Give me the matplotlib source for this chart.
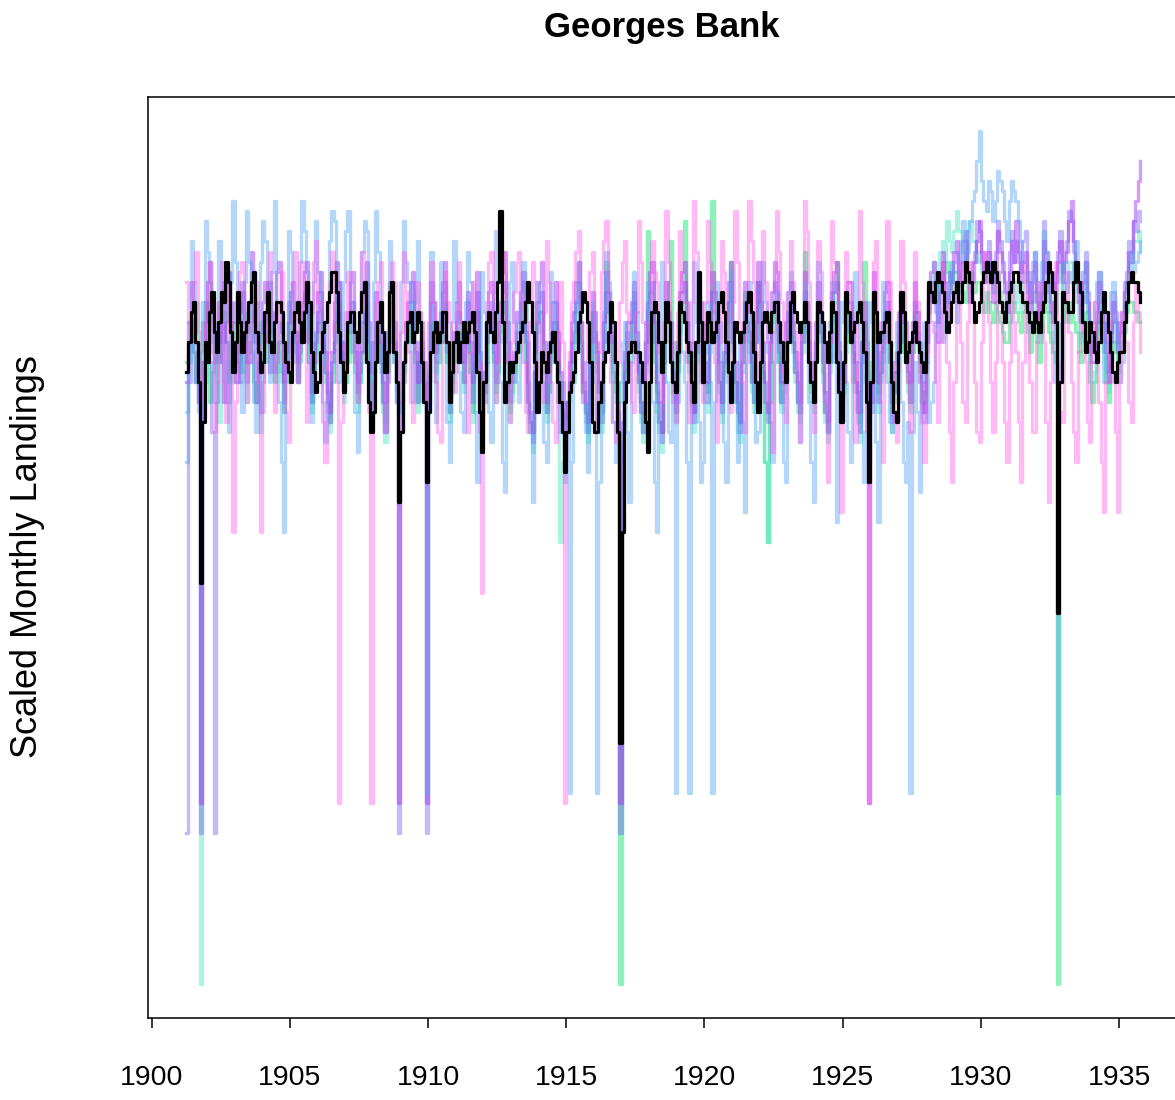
import numpy as np
import matplotlib.pyplot as plt

plt.rcParams['font.family'] = ['Liberation Sans', 'DejaVu Sans']

# monthly values starting Apr 1901, scaled landings (arbitrary units)
start = 1901.25
step = 1 / 12
years = list(range(1900, 1940, 5))

mean_landings = [
    61, 64, 67, 68, 64, 60, 40, 56, 64, 62, 67, 69, 65, 63, 66, 69, 68, 72, 70, 65, 61, 64, 69, 66,
    63, 65, 66, 68, 70, 71, 65, 63, 61, 62, 67, 69, 64, 63, 66, 68, 68, 67, 64, 62, 61, 60, 65, 67,
    68, 66, 64, 67, 70, 68, 63, 61, 59, 60, 63, 65, 66, 68, 69, 71, 71, 69, 65, 62, 59, 61, 66, 67,
    67, 65, 64, 67, 69, 70, 62, 58, 55, 57, 62, 66, 68, 65, 61, 63, 69, 70, 63, 60, 48, 55, 62, 64,
    66, 67, 64, 65, 67, 66, 62, 58, 50, 57, 63, 65, 66, 64, 65, 67, 67, 64, 58, 61, 64, 65, 62, 64,
    66, 64, 65, 66, 67, 65, 61, 57, 53, 60, 66, 67, 65, 64, 67, 70, 77, 66, 58, 60, 62, 61, 62, 63,
    64, 65, 66, 68, 70, 68, 65, 62, 57, 60, 63, 62, 61, 63, 64, 65, 62, 60, 58, 55, 51, 55, 59, 60,
    61, 63, 66, 67, 69, 68, 66, 62, 56, 55, 55, 58, 60, 62, 63, 65, 68, 66, 62, 55, 24, 45, 58, 60,
    63, 64, 64, 63, 63, 62, 60, 56, 53, 60, 67, 68, 67, 64, 61, 64, 68, 66, 62, 60, 59, 63, 68, 67,
    66, 64, 63, 60, 58, 64, 71, 66, 60, 64, 67, 66, 64, 65, 66, 68, 69, 67, 64, 61, 58, 62, 66, 65,
    64, 65, 66, 68, 69, 67, 63, 60, 57, 62, 66, 67, 66, 65, 67, 68, 68, 66, 64, 62, 60, 64, 68, 69,
    67, 66, 65, 66, 68, 66, 62, 60, 58, 62, 68, 67, 66, 64, 62, 65, 68, 67, 62, 59, 56, 62, 69, 67,
    64, 65, 66, 67, 68, 66, 63, 58, 50, 60, 69, 67, 64, 65, 65, 66, 67, 64, 60, 57, 56, 63, 69, 67,
    62, 63, 64, 65, 66, 64, 63, 62, 61, 66, 70, 69, 68, 70, 71, 70, 69, 67, 65, 66, 68, 69, 70, 68,
    68, 70, 72, 71, 70, 68, 66, 67, 68, 70, 71, 72, 71, 70, 72, 71, 70, 68, 67, 66, 68, 69, 70, 71,
    71, 70, 69, 68, 68, 67, 66, 65, 67, 66, 65, 67, 68, 70, 72, 71, 69, 66, 37, 60, 69, 68, 68, 67,
    67, 70, 72, 70, 69, 66, 63, 64, 66, 65, 63, 62, 64, 67, 69, 67, 65, 63, 61, 60, 62, 63, 63, 66,
    68, 70, 71, 70, 70, 69, 68,
]

light_blue = [
    52, 63, 74, 70, 60, 57, 56, 68, 76, 73, 70, 64, 58, 66, 74, 69, 62, 58, 55, 70, 78, 72, 66, 60,
    57, 70, 77, 72, 65, 58, 55, 64, 72, 76, 74, 66, 60, 71, 78, 66, 58, 52, 45, 62, 75, 73, 68, 62,
    60, 72, 78, 75, 71, 62, 56, 70, 76, 71, 66, 58, 54, 68, 74, 77, 76, 66, 60, 64, 70, 75, 77, 68,
    63, 57, 53, 66, 73, 76, 75, 64, 58, 70, 77, 73, 68, 60, 55, 65, 74, 70, 62, 58, 57, 70, 76, 72,
    70, 63, 58, 68, 74, 67, 62, 58, 19, 60, 73, 64, 56, 66, 72, 69, 64, 56, 52, 66, 74, 68, 61, 57,
    55, 68, 73, 70, 66, 57, 50, 62, 71, 67, 62, 57, 54, 69, 75, 66, 60, 52, 49, 63, 70, 72, 66, 60,
    58, 67, 72, 69, 64, 55, 48, 60, 70, 66, 60, 54, 52, 64, 71, 68, 62, 58, 55, 60, 50, 56, 19, 52,
    60, 68, 72, 66, 62, 55, 51, 63, 68, 60, 19, 50, 57, 67, 73, 70, 64, 56, 52, 58, 60, 64, 66, 55,
    48, 62, 71, 67, 63, 57, 55, 66, 70, 64, 58, 50, 45, 64, 72, 68, 60, 55, 54, 62, 19, 58, 66, 63,
    60, 52, 19, 64, 72, 66, 56, 50, 52, 63, 68, 60, 19, 58, 70, 66, 62, 54, 50, 64, 71, 66, 58, 52,
    64, 56, 47, 62, 70, 66, 60, 54, 55, 66, 72, 68, 63, 56, 52, 62, 69, 64, 58, 52, 50, 66, 71, 65,
    62, 58, 54, 64, 70, 65, 58, 52, 48, 64, 72, 67, 64, 58, 55, 66, 70, 62, 46, 58, 68, 66, 60, 55,
    52, 64, 71, 66, 62, 55, 50, 63, 68, 66, 64, 54, 46, 62, 70, 65, 60, 56, 55, 62, 66, 63, 58, 52,
    50, 56, 19, 55, 62, 57, 49, 60, 66, 62, 56, 58, 60, 66, 70, 67, 64, 66, 68, 71, 72, 70, 66, 72,
    74, 76, 70, 73, 76, 78, 79, 82, 85, 80, 78, 77, 80, 79, 76, 78, 81, 80, 79, 76, 74, 78, 80, 79,
    78, 76, 74, 72, 72, 69, 70, 72, 73, 70, 68, 72, 75, 73, 71, 68, 66, 60, 19, 66, 72, 70, 69, 71,
    70, 72, 74, 70, 66, 68, 72, 67, 63, 66, 68, 70, 71, 66, 60, 64, 67, 69, 70, 66, 64, 60, 62, 65,
    68, 70, 73, 71, 72, 73, 74,
]

pink = [
    70, 66, 64, 70, 73, 65, 58, 61, 66, 70, 72, 63, 55, 60, 68, 72, 60, 56, 70, 66, 45, 58, 65, 71,
    72, 64, 58, 62, 66, 71, 70, 60, 45, 57, 64, 70, 73, 66, 57, 62, 68, 71, 62, 57, 54, 64, 70, 73,
    60, 66, 72, 65, 56, 62, 67, 72, 74, 68, 62, 56, 52, 63, 70, 73, 65, 60, 18, 56, 60, 67, 71, 66,
    66, 62, 58, 67, 73, 68, 62, 57, 18, 60, 68, 70, 72, 64, 55, 60, 66, 72, 70, 62, 58, 65, 73, 69,
    63, 58, 56, 65, 70, 67, 65, 60, 58, 66, 72, 68, 60, 55, 54, 64, 71, 68, 66, 60, 59, 67, 72, 66,
    64, 60, 55, 63, 70, 67, 62, 55, 39, 58, 68, 72, 73, 65, 58, 62, 66, 73, 71, 62, 56, 64, 69, 72,
    73, 68, 62, 57, 55, 66, 72, 70, 66, 60, 58, 67, 74, 70, 60, 56, 54, 63, 70, 64, 18, 55, 63, 68,
    70, 73, 75, 66, 58, 62, 66, 71, 73, 64, 56, 63, 71, 74, 76, 68, 60, 56, 54, 62, 68, 72, 74, 67,
    62, 58, 57, 67, 76, 72, 66, 60, 55, 66, 74, 71, 70, 63, 58, 66, 77, 72, 64, 58, 56, 67, 75, 70,
    68, 62, 56, 68, 78, 73, 65, 60, 58, 68, 76, 72, 70, 62, 54, 64, 74, 71, 67, 60, 57, 68, 77, 72,
    66, 60, 55, 67, 78, 74, 70, 63, 58, 66, 75, 70, 64, 58, 53, 65, 77, 73, 68, 61, 56, 66, 74, 70,
    65, 60, 54, 66, 78, 75, 70, 62, 55, 64, 74, 71, 66, 58, 50, 64, 76, 72, 69, 60, 47, 60, 73, 70,
    67, 60, 54, 66, 77, 70, 64, 55, 18, 60, 72, 74, 66, 58, 52, 64, 76, 70, 62, 56, 54, 66, 74, 70,
    64, 60, 55, 64, 73, 68, 60, 56, 52, 63, 70, 66, 65, 60, 56, 64, 72, 68, 62, 55, 50, 60, 70, 72,
    64, 58, 56, 66, 72, 68, 60, 55, 54, 64, 73, 70, 66, 60, 55, 62, 71, 68, 62, 56, 52, 62, 70, 66,
    63, 56, 50, 62, 72, 67, 60, 55, 55, 64, 70, 66, 64, 56, 48, 60, 68, 72, 62, 57, 56, 66, 71, 65,
    60, 55, 52, 63, 70, 65, 62, 56, 54, 64, 68, 62, 58, 52, 47, 60, 66, 62, 60, 55, 47, 60, 67, 64,
    64, 58, 56, 66, 70, 67, 63,
]

purple = [
    60, 66, 70, 67, 64, 58, 18, 62, 66, 70, 72, 66, 62, 65, 68, 62, 58, 66, 71, 68, 64, 60, 60, 67,
    69, 66, 62, 68, 73, 66, 58, 62, 65, 68, 70, 64, 61, 64, 67, 71, 72, 65, 60, 63, 66, 69, 70, 65,
    62, 65, 68, 71, 72, 64, 59, 62, 65, 69, 71, 66, 63, 59, 57, 63, 68, 72, 70, 64, 62, 64, 67, 70,
    71, 65, 60, 63, 66, 70, 72, 66, 61, 64, 69, 66, 64, 60, 58, 65, 70, 68, 66, 60, 18, 58, 62, 66,
    68, 70, 71, 64, 60, 64, 66, 62, 18, 60, 70, 68, 63, 65, 67, 70, 72, 64, 58, 61, 65, 68, 70, 66,
    62, 66, 69, 64, 60, 66, 71, 63, 57, 61, 66, 69, 70, 65, 62, 66, 68, 71, 73, 66, 60, 62, 63, 67,
    66, 69, 71, 65, 60, 57, 55, 63, 68, 70, 72, 64, 58, 61, 64, 68, 70, 65, 61, 57, 53, 58, 62, 66,
    67, 70, 72, 66, 60, 58, 56, 64, 69, 67, 64, 60, 58, 66, 71, 69, 66, 64, 62, 58, 18, 56, 63, 66,
    66, 68, 70, 65, 61, 58, 57, 64, 68, 71, 72, 66, 60, 58, 55, 64, 70, 67, 66, 61, 58, 64, 69, 71,
    72, 68, 64, 60, 57, 64, 70, 68, 66, 62, 60, 66, 71, 69, 68, 62, 58, 63, 66, 70, 72, 66, 62, 58,
    56, 64, 70, 68, 67, 62, 60, 66, 72, 68, 64, 60, 57, 64, 69, 72, 71, 64, 60, 62, 66, 69, 70, 66,
    63, 60, 58, 66, 71, 68, 66, 62, 60, 66, 70, 67, 64, 59, 56, 64, 69, 71, 72, 64, 58, 62, 67, 70,
    70, 66, 62, 59, 57, 64, 68, 63, 18, 58, 71, 66, 60, 63, 66, 69, 70, 64, 58, 61, 63, 67, 69, 66,
    66, 63, 60, 66, 70, 67, 64, 60, 57, 64, 69, 71, 72, 68, 64, 69, 73, 70, 66, 69, 71, 73, 74, 71,
    70, 72, 75, 71, 68, 70, 72, 74, 76, 73, 70, 72, 73, 70, 68, 71, 75, 73, 71, 69, 67, 71, 74, 72,
    76, 73, 70, 72, 73, 70, 67, 70, 72, 68, 65, 69, 74, 71, 69, 67, 66, 70, 72, 74, 70, 72, 73, 76,
    78, 74, 70, 68, 66, 70, 72, 68, 64, 62, 62, 66, 70, 68, 66, 63, 60, 64, 68, 66, 63, 65, 66, 69,
    70, 73, 72, 76, 78, 80, 82,
]

lavender = [
    15, 60, 66, 63, 60, 58, 15, 62, 68, 66, 62, 55, 15, 58, 64, 67, 70, 64, 58, 62, 66, 68, 62, 60,
    70, 66, 60, 62, 64, 67, 68, 63, 57, 60, 66, 69, 70, 65, 61, 63, 64, 66, 58, 62, 68, 66, 63, 65,
    60, 63, 67, 69, 70, 64, 58, 61, 64, 67, 69, 65, 61, 58, 56, 62, 66, 69, 70, 64, 60, 62, 65, 68,
    68, 63, 59, 61, 63, 67, 70, 64, 57, 61, 66, 64, 62, 58, 55, 63, 68, 66, 64, 58, 15, 55, 60, 64,
    66, 68, 70, 63, 58, 62, 64, 60, 15, 58, 68, 65, 62, 64, 66, 69, 70, 63, 57, 60, 64, 66, 67, 64,
    60, 64, 68, 63, 58, 64, 69, 62, 55, 59, 64, 67, 68, 63, 60, 64, 66, 69, 70, 64, 58, 60, 62, 65,
    65, 68, 70, 64, 58, 56, 54, 61, 66, 68, 69, 62, 57, 60, 63, 66, 68, 64, 60, 57, 55, 58, 60, 64,
    65, 68, 70, 64, 59, 57, 55, 62, 67, 65, 63, 59, 56, 64, 69, 67, 65, 62, 60, 57, 15, 54, 62, 65,
    64, 66, 69, 64, 60, 57, 55, 62, 67, 69, 70, 64, 58, 56, 54, 62, 68, 66, 64, 60, 57, 62, 67, 69,
    70, 66, 62, 58, 56, 63, 68, 66, 64, 60, 58, 64, 69, 67, 66, 60, 57, 62, 64, 68, 70, 64, 60, 57,
    55, 62, 68, 66, 65, 60, 58, 64, 70, 66, 62, 58, 56, 62, 67, 70, 69, 63, 58, 60, 64, 67, 68, 64,
    61, 58, 57, 64, 69, 66, 64, 60, 58, 64, 68, 65, 62, 57, 55, 62, 67, 69, 70, 63, 57, 60, 65, 68,
    68, 64, 60, 57, 55, 62, 66, 60, 52, 57, 69, 65, 58, 61, 64, 67, 68, 62, 56, 59, 61, 65, 67, 64,
    64, 61, 58, 64, 68, 65, 62, 58, 56, 62, 67, 69, 70, 67, 66, 70, 72, 69, 68, 71, 70, 72, 73, 70,
    72, 74, 74, 71, 70, 72, 73, 76, 75, 72, 71, 73, 74, 71, 70, 73, 76, 74, 72, 70, 69, 73, 75, 72,
    74, 72, 71, 74, 75, 71, 68, 71, 73, 69, 66, 70, 76, 73, 70, 68, 67, 71, 73, 75, 71, 73, 74, 77,
    76, 73, 71, 69, 67, 71, 73, 69, 65, 63, 63, 67, 71, 69, 67, 64, 61, 65, 69, 67, 64, 66, 67, 70,
    71, 74, 73, 76, 75, 77, 76,
]

aqua = [
    57, 62, 64, 67, 68, 63, 0, 58, 60, 66, 70, 67, 64, 60, 56, 63, 67, 70, 71, 65, 60, 62, 66, 68,
    62, 60, 58, 64, 68, 66, 64, 59, 55, 62, 66, 68, 70, 64, 60, 61, 63, 60, 57, 62, 66, 69, 68, 64,
    61, 64, 66, 69, 68, 62, 57, 60, 62, 66, 67, 64, 60, 57, 55, 61, 64, 67, 68, 63, 58, 60, 63, 66,
    66, 61, 57, 60, 62, 66, 68, 62, 56, 59, 64, 66, 61, 57, 54, 60, 66, 64, 62, 59, 58, 57, 61, 64,
    64, 66, 68, 62, 57, 60, 63, 58, 50, 57, 66, 64, 60, 62, 64, 67, 68, 62, 56, 59, 62, 64, 65, 62,
    59, 63, 66, 61, 56, 62, 67, 60, 54, 58, 62, 65, 66, 62, 58, 61, 64, 67, 68, 62, 56, 58, 60, 63,
    63, 66, 68, 62, 57, 55, 53, 60, 65, 67, 67, 61, 56, 59, 62, 65, 66, 58, 44, 52, 54, 57, 59, 62,
    64, 66, 68, 63, 58, 56, 54, 60, 65, 63, 61, 58, 55, 62, 67, 65, 63, 60, 58, 56, 60, 58, 61, 64,
    62, 65, 67, 63, 59, 56, 54, 61, 65, 68, 68, 63, 57, 55, 53, 60, 66, 64, 62, 59, 56, 61, 65, 67,
    68, 64, 61, 57, 55, 62, 66, 64, 62, 58, 57, 63, 67, 65, 64, 59, 56, 60, 62, 66, 68, 63, 58, 55,
    54, 61, 67, 65, 63, 59, 57, 64, 68, 64, 60, 52, 44, 58, 65, 68, 67, 62, 57, 59, 62, 65, 66, 63,
    60, 57, 56, 63, 67, 65, 62, 58, 57, 62, 66, 64, 60, 56, 54, 61, 65, 68, 68, 62, 56, 59, 63, 66,
    66, 62, 59, 56, 54, 60, 64, 59, 56, 61, 67, 64, 57, 60, 62, 65, 66, 60, 55, 58, 60, 63, 65, 63,
    62, 59, 57, 63, 66, 64, 60, 57, 58, 64, 68, 70, 72, 69, 70, 73, 74, 72, 76, 74, 73, 75, 77, 75,
    75, 73, 72, 75, 76, 74, 74, 72, 73, 71, 70, 72, 72, 70, 69, 71, 71, 69, 68, 67, 66, 69, 70, 68,
    70, 68, 67, 70, 71, 67, 65, 68, 69, 66, 64, 68, 72, 70, 67, 65, 64, 67, 70, 72, 68, 70, 70, 72,
    72, 70, 68, 65, 64, 68, 70, 66, 62, 60, 61, 65, 68, 66, 64, 61, 59, 63, 66, 64, 62, 64, 65, 68,
    70, 72, 72, 74, 74, 75, 73,
]

green = [
    62, 64, 66, 63, 60, 62, 63, 66, 68, 63, 58, 61, 65, 63, 62, 65, 67, 64, 60, 62, 64, 66, 66, 63,
    61, 64, 67, 65, 63, 60, 58, 62, 66, 64, 62, 65, 68, 64, 60, 62, 64, 61, 57, 60, 65, 67, 67, 64,
    60, 62, 65, 67, 67, 62, 58, 60, 63, 65, 66, 63, 61, 58, 56, 60, 64, 66, 67, 63, 59, 60, 62, 65,
    65, 62, 58, 60, 63, 66, 67, 62, 57, 60, 64, 65, 62, 58, 56, 61, 65, 64, 63, 60, 59, 58, 62, 64,
    64, 66, 67, 62, 58, 61, 63, 60, 57, 61, 66, 64, 61, 62, 64, 66, 67, 62, 57, 59, 62, 64, 65, 62,
    60, 63, 66, 61, 57, 62, 67, 61, 56, 59, 62, 65, 66, 62, 59, 61, 65, 67, 68, 62, 57, 59, 61, 64,
    63, 66, 68, 62, 58, 56, 55, 61, 66, 67, 67, 62, 57, 59, 62, 65, 66, 62, 60, 57, 56, 58, 60, 63,
    64, 67, 70, 64, 59, 57, 55, 62, 67, 64, 62, 59, 57, 66, 72, 67, 64, 61, 59, 56, 0, 55, 61, 64,
    63, 66, 68, 63, 60, 58, 56, 64, 75, 69, 67, 62, 59, 56, 55, 62, 66, 70, 74, 64, 57, 61, 66, 68,
    76, 66, 62, 58, 57, 63, 68, 66, 64, 60, 59, 66, 78, 68, 65, 60, 58, 61, 63, 68, 72, 64, 60, 57,
    56, 62, 69, 66, 64, 60, 58, 64, 70, 65, 61, 52, 44, 58, 66, 68, 68, 62, 58, 60, 63, 66, 67, 64,
    61, 58, 57, 65, 73, 66, 63, 59, 58, 63, 67, 65, 61, 57, 55, 62, 66, 69, 72, 63, 58, 60, 64, 67,
    67, 63, 60, 57, 56, 64, 72, 64, 58, 62, 68, 65, 59, 61, 63, 66, 67, 62, 57, 59, 61, 64, 66, 63,
    63, 60, 58, 63, 67, 64, 61, 58, 59, 64, 68, 70, 70, 68, 68, 70, 70, 71, 72, 70, 69, 71, 71, 69,
    70, 69, 68, 70, 71, 69, 69, 70, 70, 68, 67, 69, 68, 67, 66, 68, 67, 66, 65, 64, 64, 66, 67, 68,
    67, 66, 65, 67, 68, 65, 63, 65, 66, 64, 62, 65, 69, 67, 65, 64, 63, 62, 0, 60, 66, 68, 67, 66,
    68, 66, 65, 63, 62, 65, 67, 64, 60, 58, 60, 64, 66, 64, 63, 60, 58, 62, 64, 63, 61, 63, 64, 66,
    67, 68, 68, 67, 67, 66, 66,
]

species = [
    (green, (0.1, 0.9, 0.45, 0.5)),
    (aqua, (0.3, 0.9, 0.75, 0.45)),
    (lavender, (0.45, 0.35, 0.95, 0.42)),
    (purple, (0.65, 0.2, 0.95, 0.48)),
    (light_blue, (0.35, 0.65, 0.95, 0.45)),
    (pink, (1.0, 0.35, 0.9, 0.42)),
]

fig = plt.figure(figsize=(11.75, 11), dpi=100)
ax = fig.add_axes([148 / 1175, 82 / 1100, 1030 / 1175, 921 / 1100])

for vals, col in species:
    t = start + np.arange(len(vals)) * step
    ax.plot(t, vals, drawstyle='steps-post', color=col, lw=2.4)

t = start + np.arange(len(mean_landings)) * step
ax.plot(t, mean_landings, drawstyle='steps-post', color='black', lw=2.3)

# R style 4% padding around the data
allv = np.concatenate([np.array(v, float) for v, _ in species] + [np.array(mean_landings, float)])
lo, hi = allv.min(), allv.max()
ax.set_ylim(lo - 0.04 * (hi - lo), hi + 0.04 * (hi - lo))
x0, x1 = t[0], t[-1]
ax.set_xlim(x0 - 0.04 * (x1 - x0), x1 + 0.04 * (x1 - x0))

ax.set_xticks(years)
ax.set_yticks([])
ax.tick_params(axis='x', length=7.5, width=1.1, pad=26, labelsize=20.5)
for s in ax.spines.values():
    s.set_linewidth(1.1)

fig.text(662 / 1175, 1 - 27 / 1100, 'Georges Bank', ha='center', va='center',
         fontsize=25, fontweight='bold')
fig.text(28 / 1175, 1 - 557 / 1100, 'Scaled Monthly Landings', rotation=90,
         ha='center', va='center', fontsize=26)

fig.savefig('out.png', dpi=100)
